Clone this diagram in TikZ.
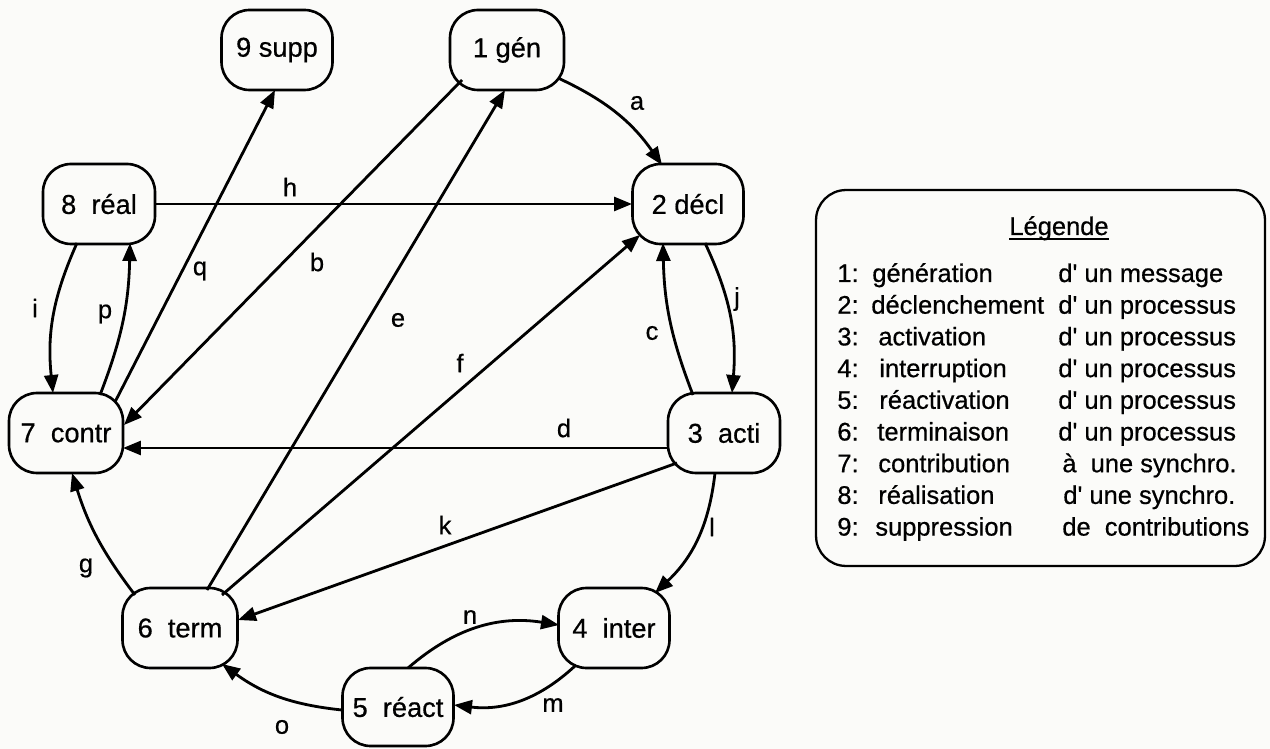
\documentclass[tikz,border=0pt]{standalone}
\usepackage{fontspec}
\setmainfont{Liberation Sans}[Ligatures=TeXOff, FakeBold=0.6]
\usetikzlibrary{arrows.meta,calc}
\definecolor{paper}{RGB}{251,251,249}
\begin{document}
\begin{tikzpicture}[x=0.02cm,y=-0.02cm,
  state/.style={draw, line width=1.5pt, rounded corners=0.56cm, minimum height=1.6cm,
    inner sep=0pt, font=\fontsize{15.5}{18}\selectfont},
  arr/.style={line width=1.6pt, -{Triangle[length=0.36cm,width=0.28cm]}},
  lbl/.style={font=\fontsize{14.5}{17}\selectfont, inner sep=0pt},
  legtxt/.style={font=\fontsize{14.5}{17}\selectfont, inner sep=0pt, anchor=base west}]

% page
\fill[paper] (0,0) rectangle (1270,749);
\useasboundingbox (0,0) rectangle (1270,749);

% states
\node[state, minimum width=2.22cm] (supp)  at (277,50)  {9 supp};
\node[state, minimum width=2.28cm] (gen)   at (507,50)  {1 gén};
\node[state, minimum width=2.22cm] (decl)  at (688,204) {2 décl};
\node[state, minimum width=2.24cm] (real)  at (99,204)  {8~~réal};
\node[state, minimum width=2.28cm] (contr) at (66,433)  {7~~contr};
\node[state, minimum width=2.24cm] (acti)  at (724,433) {3~~acti};
\node[state, minimum width=2.30cm] (term)  at (180,628) {6~~term};
\node[state, minimum width=2.22cm] (inter) at (614,628) {4~~inter};
\node[state, minimum width=2.22cm, minimum height=1.56cm] (react) at (398,707) {5~~réact};

% transitions
\draw[arr] ($(gen)+(51,28)$)    to[bend left=15]  ($(decl)+(-26,-39)$);
\draw[arr] ($(real)+(56,0)$)    --                ($(decl)+(-56,0)$);
\draw[arr] ($(gen)+(-45,30)$)   --                ($(contr)+(58,-8)$);
\draw[arr] ($(term)+(27,-38)$)  --                ($(gen)+(-2,40)$);
\draw[arr] ($(term)+(42,-33)$)  --                ($(decl)+(-48,31)$);
\draw[arr] ($(contr)+(49,-31)$) --                ($(supp)+(-2,40)$);
\draw[arr] ($(real)+(-22,39)$)  to[bend right=15] ($(contr)+(-13,-40)$);
\draw[arr] ($(contr)+(34,-38)$) to[bend right=10] ($(real)+(31,39)$);
\draw[arr] ($(acti)+(-31,-38)$) to[bend left=10]  ($(decl)+(-25,39)$);
\draw[arr] ($(decl)+(17,39)$)   to[bend left=15]  ($(acti)+(8,-40)$);
\draw[arr] ($(acti)+(-56,15)$)  --                ($(contr)+(57,15)$);
\draw[arr] ($(acti)+(-47,30)$)  --                ($(term)+(58,-8)$);
\draw[arr] ($(acti)+(-9,40)$)   to[bend left=20]  ($(inter)+(41,-35)$);
\draw[arr] ($(term)+(-45,-33)$) to[bend left=10]  ($(contr)+(6,40)$);
\draw[arr] ($(react)+(10,-39)$) to[bend left=25]  ($(inter)+(-55,-3)$);
\draw[arr] ($(inter)+(-38,37)$) to[bend left=25]  ($(react)+(56,-2)$);
\draw[arr] ($(react)+(-56,3)$)  to[bend left=15]  ($(term)+(42,36)$);

% transition letters
\node[lbl] (la) at (637,103) {a};
\node[lbl] (lh) at (290,187) {h};
\node[lbl] (lb) at (317,262) {b};
\node[lbl] (lq) at (200,271) {q};
\node[lbl] (le) at (398,320) {e};
\node[lbl] (lf) at (460,363) {f};
\node[lbl] (lc) at (652,333) {c};
\node[lbl] (lj) at (737,299) {j};
\node[lbl] (ld) at (564,428) {d};
\node[lbl] (li) at (35,308)  {i};
\node[lbl] (lp) at (105,314) {p};
\node[lbl] (lk) at (445,525) {k};
\node[lbl] (ll) at (712,527) {l};
\node[lbl] (lg) at (86,568)  {g};
\node[lbl] (ln) at (470,617) {n};
\node[lbl] (lm) at (553,705) {m};
\node[lbl] (lo) at (282,727) {o};

% legend
\node[draw, line width=1.3pt, rounded corners=0.6cm, minimum width=8.98cm,
      minimum height=7.52cm, inner sep=0pt] (legbox) at (1040.5,378) {};
\node[font=\fontsize{14.5}{17}\selectfont, inner sep=0pt, anchor=base] (legtitle) at (1059,235) {Légende};
\draw[line width=0.9pt] ($(legtitle.base west)+(0,4)$) -- ($(legtitle.base east)+(0,4)$);
\foreach \num/\word/\xw/\comp/\xc [count=\k] in {
  1/génération/872/d' un message/1058,
  2/déclenchement/871/d' un processus/1058,
  3/activation/878/d' un processus/1058,
  4/interruption/879/d' un processus/1058,
  5/réactivation/879/d' un processus/1058,
  6/terminaison/877/d' un processus/1058,
  7/contribution/878/à~~une synchro./1062,
  8/réalisation/878/d' une synchro./1063,
  9/suppression/875/de~~contributions/1062}
{
  \pgfmathsetmacro{\yb}{282+(\k-1)*31.7}
  \node[legtxt] (lnum\k)  at (837,\yb) {\num:};
  \node[legtxt] (lword\k) at (\xw,\yb) {\word};
  \node[legtxt] (lcomp\k) at (\xc,\yb) {\comp};
}
\end{tikzpicture}
\end{document}
